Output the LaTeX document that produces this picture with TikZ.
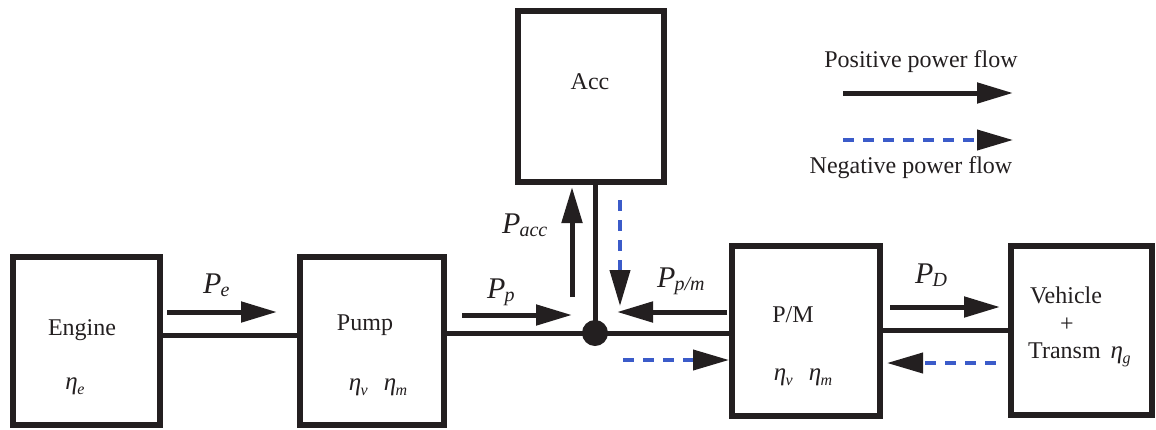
\documentclass[tikz,border=0pt]{standalone}
\usepackage{fontspec}
\setmainfont{LiberationSerif}[Extension=.ttf, UprightFont=*-Regular, ItalicFont=*-Italic, BoldFont=*-Bold, BoldItalicFont=*-BoldItalic]
\usetikzlibrary{arrows.meta}
\definecolor{ink}{HTML}{231F20}
\definecolor{negblue}{HTML}{3B5BC9}
\newcommand{\PLab}[1]{{\fontsize{30}{30}\selectfont\itshape P}\kern-1pt\raisebox{-3pt}{\fontsize{20}{20}\selectfont\itshape #1}}
\newcommand{\etaL}[1]{{\fontsize{25}{25}\selectfont\itshape η}\kern-0.5pt\raisebox{-5pt}{\fontsize{16}{16}\selectfont\itshape #1}}
\begin{document}
\begin{tikzpicture}[x=1pt,y=-1pt,
  blk/.style={draw=ink, line width=6pt, inner sep=0pt, outer sep=0pt},
  txt/.style={font=\rmfamily\fontsize{24}{26}\selectfont, text=ink, inner sep=0pt},
  plab/.style={font=\rmfamily, text=ink, inner sep=0pt, anchor=base west},
  link/.style={draw=ink, line width=5pt},
  posarrow/.style={draw=ink, line width=5pt, -{Triangle[length=36pt,width=20pt]}},
  negarrow/.style={draw=negblue, line width=4pt, dash pattern=on 11pt off 9pt, -{Triangle[length=36pt,width=20pt,color=ink,fill=ink]}}]
\useasboundingbox (0,0) rectangle (1156,429);

% blocks
\node[blk, minimum width=147pt, minimum height=167.5pt] (Eng) at (86,341) {};
\node[blk, minimum width=144pt, minimum height=167.5pt] (Pump) at (372,341) {};
\node[blk, minimum width=146pt, minimum height=171pt] (Acc) at (591,96.5) {};
\node[blk, minimum width=148pt, minimum height=170pt] (PM) at (806,331) {};
\node[blk, minimum width=141pt, minimum height=169pt] (Veh) at (1081.5,330.5) {};

% texts in blocks
\node[txt] (EngT) at (82,330) {Engine};
\node[txt] (EngEta) at (75,386) {\etaL{e}};
\node[txt] (PumpT) at (365,325) {Pump};
\node[txt] (PumpEta) at (378,387) {\etaL{v}\hspace{16pt}\etaL{m}};
\node[txt] (AccT) at (590,82) {Acc};
\node[txt] (PMT) at (793,315) {P/M};
\node[txt] (PMEta) at (803,377) {\etaL{v}\hspace{16pt}\etaL{m}};
\node[txt] (VehT) at (1066,295) {Vehicle};
\node[txt] (Plus) at (1067,325) {+};
\node[txt, anchor=west] (TrT) at (1028,355) {Transm\hspace{10pt}\etaL{g}};

% junction
\coordinate (ep) at (0,335);
\coordinate (dv) at (0,330);
\node[circle, fill=ink, minimum size=26pt, inner sep=0pt] (J) at (595,333) {};
\draw[link] (Eng.east |- ep) -- (Pump.west |- ep);
\draw[link] (Pump.east |- J) -- (J.center);
\draw[link] (J.center) -- (PM.west |- J);
\draw[link] (J |- Acc.south) -- (J.center);
\draw[link] (PM.east |- dv) -- (Veh.west |- dv);

% power flow arrows
\coordinate (pe1) at (167,312); \coordinate (pe2) at (277,312);
\draw[posarrow] (pe1) -- (pe2);
\coordinate (pp1) at (462,315); \coordinate (pp2) at (572,315);
\draw[posarrow] (pp1) -- (pp2);
\coordinate (pa1) at (572,297); \coordinate (pa2) at (572,187);
\draw[posarrow] (pa1) -- (pa2);
\coordinate (pm1) at (727,312); \coordinate (pm2) at (617,312);
\draw[posarrow] (pm1) -- (pm2);
\coordinate (pd1) at (890,307); \coordinate (pd2) at (1000,307);
\draw[posarrow] (pd1) -- (pd2);

\coordinate (na1) at (620,200); \coordinate (na2) at (620,306);
\draw[negarrow] (na1) -- (na2);
\coordinate (nm1) at (623,360); \coordinate (nm2) at (729,360);
\draw[negarrow] (nm1) -- (nm2);
\coordinate (nd1) at (996,363); \coordinate (nd2) at (887,363);
\draw[negarrow] (nd1) -- (nd2);

% labels
\node[plab] (LPe) at (203,293) {\PLab{e}};
\node[plab] (LPp) at (487,298) {\PLab{p}};
\node[plab] (LPacc) at (502,233) {\PLab{acc}};
\node[plab] (LPpm) at (657,287) {\PLab{p/m}};
\node[plab] (LPD) at (915,283) {\PLab{D}};

% legend
\node[txt] (PosT) at (921,62) {Positive power flow};
\coordinate (lp1) at (843,93); \coordinate (lp2) at (1013,93);
\draw[posarrow] (lp1) -- (lp2);
\coordinate (ln1) at (843,140); \coordinate (ln2) at (1013,140);
\draw[negarrow] (ln1) -- (ln2);
\node[txt] (NegT) at (911,168) {Negative power flow};
\end{tikzpicture}
\end{document}
